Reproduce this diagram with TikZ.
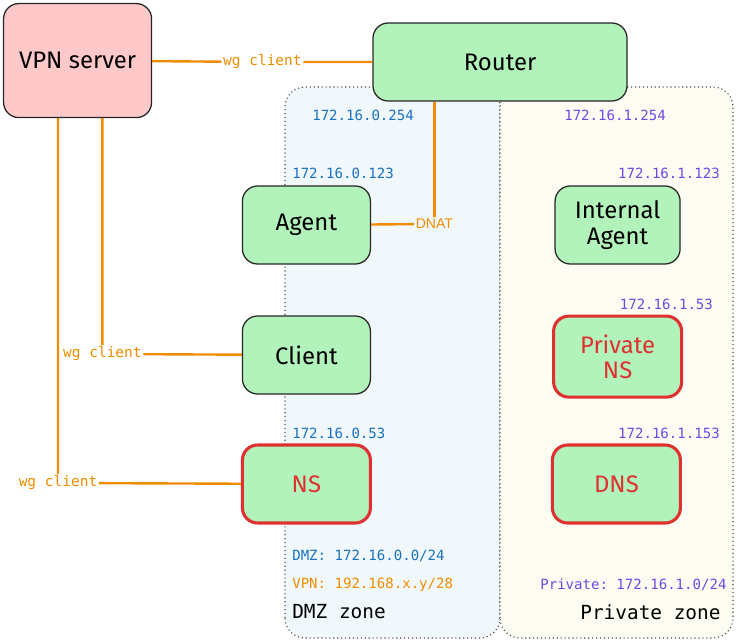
\documentclass[tikz,border=0pt]{standalone}
\usepackage{fontspec}
\setmainfont{Fira Sans}
\setmonofont{DejaVu Sans Mono}
\newfontfamily\dnatfont{Liberation Sans}

\definecolor{vpnred}{HTML}{FFC9C9}
\definecolor{nodegreen}{HTML}{B2F2BB}
\definecolor{nsred}{HTML}{E03131}
\definecolor{wgorange}{HTML}{F08C00}
\definecolor{dmzblue}{HTML}{1971C2}
\definecolor{privpurple}{HTML}{7048E8}
\definecolor{dmzbg}{RGB}{241,248,252}
\definecolor{privbg}{RGB}{253,252,243}

\begin{document}
\begin{tikzpicture}[
    box/.style={draw=black!85, line width=0.9pt, fill=nodegreen, rounded corners=0.38cm,
        minimum width=3.2cm, minimum height=1.95cm, align=center,
        font=\fontsize{17}{20}\selectfont},
    nsbox/.style={box, draw=nsred, line width=2.2pt, text=nsred},
    wire/.style={wgorange, line width=1.7pt},
    wglabel/.style={text=wgorange, inner sep=1pt, font=\ttfamily\fontsize{10.3}{12}\selectfont},
    iplabel/.style={inner sep=0pt, font=\ttfamily\fontsize{10}{12}\selectfont},
    zonelabel/.style={inner sep=0pt, font=\ttfamily\fontsize{13.8}{16}\selectfont},
    zone/.style={draw=black!70, dotted, line width=0.8pt, rounded corners=0.5cm}
]
    \useasboundingbox (0,0) rectangle (18.4,16.075);

    % Zones
    \fill[dmzbg, rounded corners=0.5cm] (7.125,0.125) rectangle (12.5,13.9);
    \draw[zone] (7.125,0.125) rectangle (12.5,13.9);
    \fill[privbg, rounded corners=0.5cm] (12.5,0.125) rectangle (18.325,13.9);
    \draw[zone] (12.5,0.125) rectangle (18.325,13.9);

    % VPN server and router
    \node[box, fill=vpnred, minimum width=3.7cm, minimum height=2.85cm] (vpn) at (1.94,14.56) {VPN server};
    \node[box, minimum width=6.35cm] (router) at (12.5,14.525) {Router};

    % DMZ hosts
    \node[box] (agent) at (7.66,10.45) {Agent};
    \node[box] (client) at (7.66,7.2) {Client};
    \node[nsbox] (ns) at (7.66,3.975) {NS};

    % Private hosts
    \node[box, minimum width=3.125cm] (intagent) at (15.44,10.45) {Internal\\[-2pt]Agent};
    \node[nsbox, minimum height=2.025cm] (privns) at (15.44,7.16) {Private\\[-2pt]NS};
    \node[nsbox] (dns) at (15.41,3.975) {DNS};

    % Addresses
    \node[iplabel, dmzblue, anchor=west] (dmzgw) at (7.8,13.2) {172.16.0.254};
    \node[iplabel, privpurple, anchor=west] (privgw) at (14.1,13.2) {172.16.1.254};
    \node[iplabel, dmzblue, anchor=west] (agentip) at (7.3,11.75) {172.16.0.123};
    \node[iplabel, privpurple, anchor=east] (intagentip) at (18.0,11.75) {172.16.1.123};
    \node[iplabel, privpurple, anchor=east] (privnsip) at (17.83,8.475) {172.16.1.53};
    \node[iplabel, dmzblue, anchor=west] (nsip) at (7.3,5.25) {172.16.0.53};
    \node[iplabel, privpurple, anchor=east] (dnsip) at (18.0,5.25) {172.16.1.153};

    % Zone captions
    \node[iplabel, dmzblue, anchor=west] (dmznet) at (7.3,2.175) {DMZ: 172.16.0.0/24};
    \node[iplabel, wgorange, anchor=west] (vpnnet) at (7.3,1.45) {VPN: 192.168.x.y/28};
    \node[zonelabel, anchor=west] (dmzname) at (7.3,0.775) {DMZ zone};
    \node[iplabel, privpurple, anchor=east] (privnet) at (18.17,1.45) {Private: 172.16.1.0/24};
    \node[zonelabel, anchor=east] (privname) at (18.02,0.775) {Private zone};

    % Wireguard links
    \node[wglabel] (wg1) at (6.56,14.525) {wg client};
    \node[wglabel] (wg2) at (2.56,7.225) {wg client};
    \node[wglabel] (wg3) at (1.45,4.0) {wg client};
    \draw[wire] (vpn) -- (wg1) -- (router);
    \draw[wire] (wg2 |- vpn.south) -- (wg2) -- (client);
    \draw[wire] (wg3 |- vpn.south) -- (wg3) -- (ns);

    % Port forward
    \node[text=wgorange, inner sep=1pt, font=\dnatfont\fontsize{10}{12}\selectfont] (dnat) at (10.86,10.475) {DNAT};
    \draw[wire] (agent) -- (dnat);
    \draw[wire] (dnat) -- (dnat |- router.south);
\end{tikzpicture}
\end{document}
